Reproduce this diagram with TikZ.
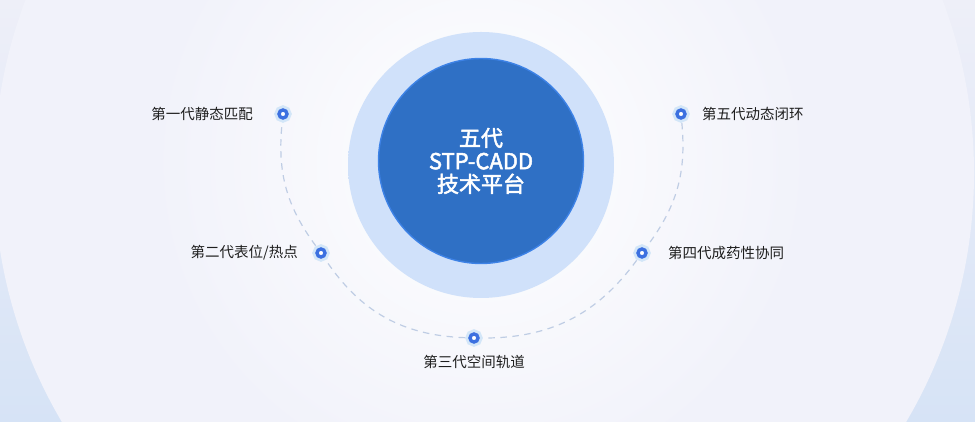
\documentclass[tikz,border=0pt]{standalone}
\usepackage{fontspec}
\newfontfamily\cjk{Noto Sans CJK SC}
\newfontfamily\cjkgras{Noto Sans CJK SC}[FakeBold=2.2]
\usetikzlibrary{positioning}
\definecolor{fondhaut}{HTML}{EEEFF8}
\definecolor{fondbas}{HTML}{D6E3F6}
\definecolor{fondin}{HTML}{F1F2FA}
\definecolor{haloin}{HTML}{D0E1FA}
\definecolor{haloout}{HTML}{E2ECFC}
\definecolor{bleu}{HTML}{2F70C5}
\definecolor{bord}{HTML}{3D82E6}
\definecolor{pointbleu}{HTML}{3C70E0}
\definecolor{lueur}{HTML}{D3E6F8}
\definecolor{pointille}{HTML}{BFCDE4}
\definecolor{texte}{HTML}{1E1E1E}
\pgfdeclareradialshading{halo}{\pgfpoint{0bp}{0bp}}{color(0bp)=(haloin); color(38bp)=(haloin); color(50bp)=(haloout)}

\begin{document}
\begin{tikzpicture}[x=1pt, y=1pt, orbite/.style={draw=pointille, line width=1.2pt, dash pattern=on 6.5pt off 5.5pt}]
        \tikzset{etape/.style={circle, fill=white, draw=pointbleu, line width=3.4pt, minimum size=8pt, inner sep=0pt, outer sep=5pt, preaction={draw=lueur, line width=9pt}}};
        \tikzset{legende/.style={inner sep=0pt, text=texte, font=\cjk\fontsize{14.5}{16}\selectfont}};
        \useasboundingbox (0,0) rectangle (975,422);

        % fond
        \shade[top color=fondhaut, bottom color=fondbas] (0,0) rectangle (975,422);
        \fill[fondin] (484,249) circle (490);
        \shade[inner color=white, outer color=fondin] (481,260) circle (330);

        % disque central
        \shade[shading=halo] (481,257) circle (133);
        \node[circle, fill=bleu, draw=bord, line width=1.4pt, minimum size=205pt, inner sep=0pt,
              text=white, align=center, font=\cjkgras\fontsize{22}{23}\selectfont] (centre) at (481,261)
              {五代\\STP-CADD\\技术平台};

        % etapes
        \node[etape] (g1) at (283,308) {};
        \node[etape] (g2) at (321,169) {}
            edge[orbite, bend left=21] (g1);
        \node[etape] (g3) at (474,84) {}
            edge[orbite, bend left=27] (g2);
        \node[etape] (g4) at (642,169) {}
            edge[orbite, bend left=27] (g3);
        \node[etape] (g5) at (681,308) {}
            edge[orbite, bend left=21] (g4);

        \node[legende, left=21pt of g1] (t1) {第一代静态匹配};
        \node[legende, left=14pt of g2] (t2) {第二代表位/热点};
        \node[legende, below=8pt of g3] (t3) {第三代空间轨道};
        \node[legende, right=17pt of g4] (t4) {第四代成药性协同};
        \node[legende, right=12pt of g5] (t5) {第五代动态闭环};
    \end{tikzpicture}
\end{document}
